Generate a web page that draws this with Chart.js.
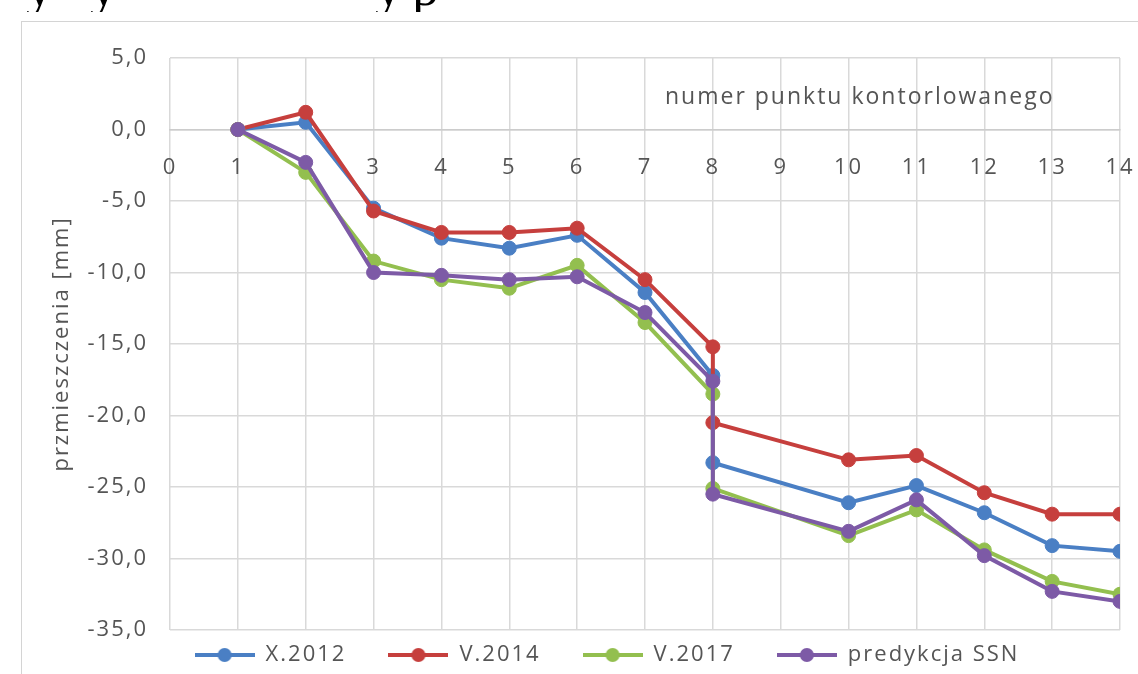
<!DOCTYPE html>
<html lang="pl">
<head>
<meta charset="UTF-8">
<title>Przemieszczenia punktów kontrolowanych</title>
<script src="https://cdn.jsdelivr.net/npm/chart.js"></script>
<style>
    body {
        margin: 0;
        width: 1138px;
        height: 674px;
        overflow: hidden;
        position: relative;
        background: #ffffff;
        font-family: "Open Sans", sans-serif;
    }
    .topline {
        position: absolute;
        left: 0;
        top: -100px;
        width: 600px;
        height: 112px;
        overflow: hidden;
    }
    .topline span {
        position: absolute;
        bottom: -2px;
        font-family: "Liberation Serif", serif;
        font-size: 54px;
        line-height: 1;
        color: #000;
    }
    .frame {
        position: absolute;
        left: 21px;
        top: 21px;
        width: 1200px;
        height: 720px;
        border: 1px solid #d4d4d4;
    }
    #chart {
        position: absolute;
        left: 22px;
        top: 22px;
    }
</style>
</head>
<body>

<!-- bottom of the text line above the figure, cut off by the page edge -->
<div class="topline">
    <span style="left:26px">y</span>
    <span style="left:90px">y</span>
    <span style="left:375px">y</span>
    <span style="left:412px">p</span>
</div>

<div class="frame"></div>
<canvas id="chart" width="1140" height="682"></canvas>

<script>
    // numer punktu kontrolowanego (punkt 8 ma dwie wartości - skok)
    const points = [1, 2, 3, 4, 5, 6, 7, 8, 8, 10, 11, 12, 13, 14];

    // przemieszczenia [mm]
    const x2012 = [0, 0.5, -5.5, -7.6, -8.3, -7.4, -11.4, -17.2, -23.3, -26.1, -24.9, -26.8, -29.1, -29.5];
    const v2014 = [0, 1.2, -5.7, -7.2, -7.2, -6.9, -10.5, -15.2, -20.5, -23.1, -22.8, -25.4, -26.9, -26.9];
    const v2017 = [0, -3.0, -9.2, -10.5, -11.1, -9.5, -13.5, -18.5, -25.1, -28.4, -26.6, -29.4, -31.6, -32.5];
    const ssn = [0, -2.3, -10.0, -10.2, -10.5, -10.3, -12.8, -17.6, -25.5, -28.1, -25.9, -29.8, -32.3, -33.0];

    const seriesNames = ['X.2012', 'V.2014', 'V.2017', 'predykcja SSN'];
    const seriesColors = ['#4a7fc4', '#c63f3d', '#93bf4f', '#7d5aa6'];

    const textColor = '#555555';
    const gridColor = '#d9d9d9';

    // legend symbol: short line with a dot, like Excel
    function legendSymbol(color) {
        const c = document.createElement('canvas');
        c.width = 60;
        c.height = 18;
        const g = c.getContext('2d');
        g.strokeStyle = color;
        g.lineWidth = 4;
        g.beginPath();
        g.moveTo(0, 9);
        g.lineTo(60, 9);
        g.stroke();
        g.fillStyle = color;
        g.beginPath();
        g.arc(30, 9, 7, 0, Math.PI * 2);
        g.fill();
        return c;
    }
    const legendImgs = seriesColors.map(legendSymbol);

    const allSeries = [x2012, v2014, v2017, ssn];
    const datasets = allSeries.map((vals, i) => ({
        label: seriesNames[i],
        data: vals.map((v, j) => ({ x: points[j], y: v })),
        borderColor: seriesColors[i],
        backgroundColor: seriesColors[i],
        borderWidth: 4,
        pointRadius: 7,
        pointBorderWidth: 1,
        pointBackgroundColor: seriesColors[i],
        tension: 0,
        order: allSeries.length - i // last series drawn on top
    }));

    // wider letter spacing, close to the original rendering
    const spacingPlugin = {
        id: 'spacing',
        beforeUpdate(chart) { chart.ctx.letterSpacing = '2px'; },
        beforeDraw(chart) { chart.ctx.letterSpacing = '2px'; }
    };

    // place legend like the original
    const legendShift = {
        id: 'legendShift',
        afterLayout(chart) {
            const lg = chart.legend;
            lg.top -= 28;
            lg.bottom -= 28;
            lg.left += 36;
            lg.right += 36;
        }
    };

    // x axis title sits inside the plot, top right
    const xTitle = {
        id: 'xTitle',
        afterDraw(chart) {
            const ctx = chart.ctx;
            ctx.save();
            ctx.letterSpacing = '2px';
            ctx.font = '23px "Open Sans"';
            ctx.fillStyle = textColor;
            ctx.textAlign = 'left';
            ctx.textBaseline = 'middle';
            ctx.fillText('numer punktu kontorlowanego', 643, 75);
            ctx.restore();
        }
    };

    new Chart(document.getElementById('chart'), {
        type: 'line',
        data: { datasets: datasets },
        options: {
            responsive: false,
            animation: false,
            layout: { padding: { left: 0, right: 42, top: 36, bottom: 0 } },
            scales: {
                x: {
                    type: 'linear',
                    position: { y: 0 },
                    min: 0,
                    max: 14,
                    afterFit(scale) { scale.height = 0; },
                    ticks: {
                        stepSize: 1,
                        autoSkip: false,
                        padding: 25,
                        color: textColor,
                        font: { family: 'Open Sans', size: 22 }
                    },
                    grid: { color: gridColor, lineWidth: 1.5, drawTicks: false },
                    border: { color: '#cccccc', width: 1.5 }
                },
                y: {
                    min: -35,
                    max: 5,
                    afterFit(scale) { scale.width = 148; },
                    ticks: {
                        stepSize: 5,
                        padding: 22,
                        color: textColor,
                        font: { family: 'Open Sans', size: 22 },
                        callback: v => v.toFixed(1).replace('.', ',')
                    },
                    grid: { color: gridColor, lineWidth: 1.5, drawTicks: false },
                    border: { display: false },
                    title: {
                        display: true,
                        text: 'przmieszczenia [mm]',
                        color: textColor,
                        font: { family: 'Open Sans', size: 22 },
                        padding: { top: 27, bottom: 0 }
                    }
                }
            },
            plugins: {
                tooltip: { enabled: false },
                legend: {
                    position: 'bottom',
                    labels: {
                        color: textColor,
                        font: { family: 'Open Sans', size: 22 },
                        usePointStyle: true,
                        pointStyleWidth: 60,
                        padding: 42,
                        sort: (a, b) => a.datasetIndex - b.datasetIndex,
                        generateLabels(chart) {
                            const items = Chart.defaults.plugins.legend.labels.generateLabels(chart);
                            items.forEach(it => { it.pointStyle = legendImgs[it.datasetIndex]; });
                            return items;
                        }
                    }
                }
            }
        },
        plugins: [spacingPlugin, legendShift, xTitle]
    });
</script>

</body>
</html>
